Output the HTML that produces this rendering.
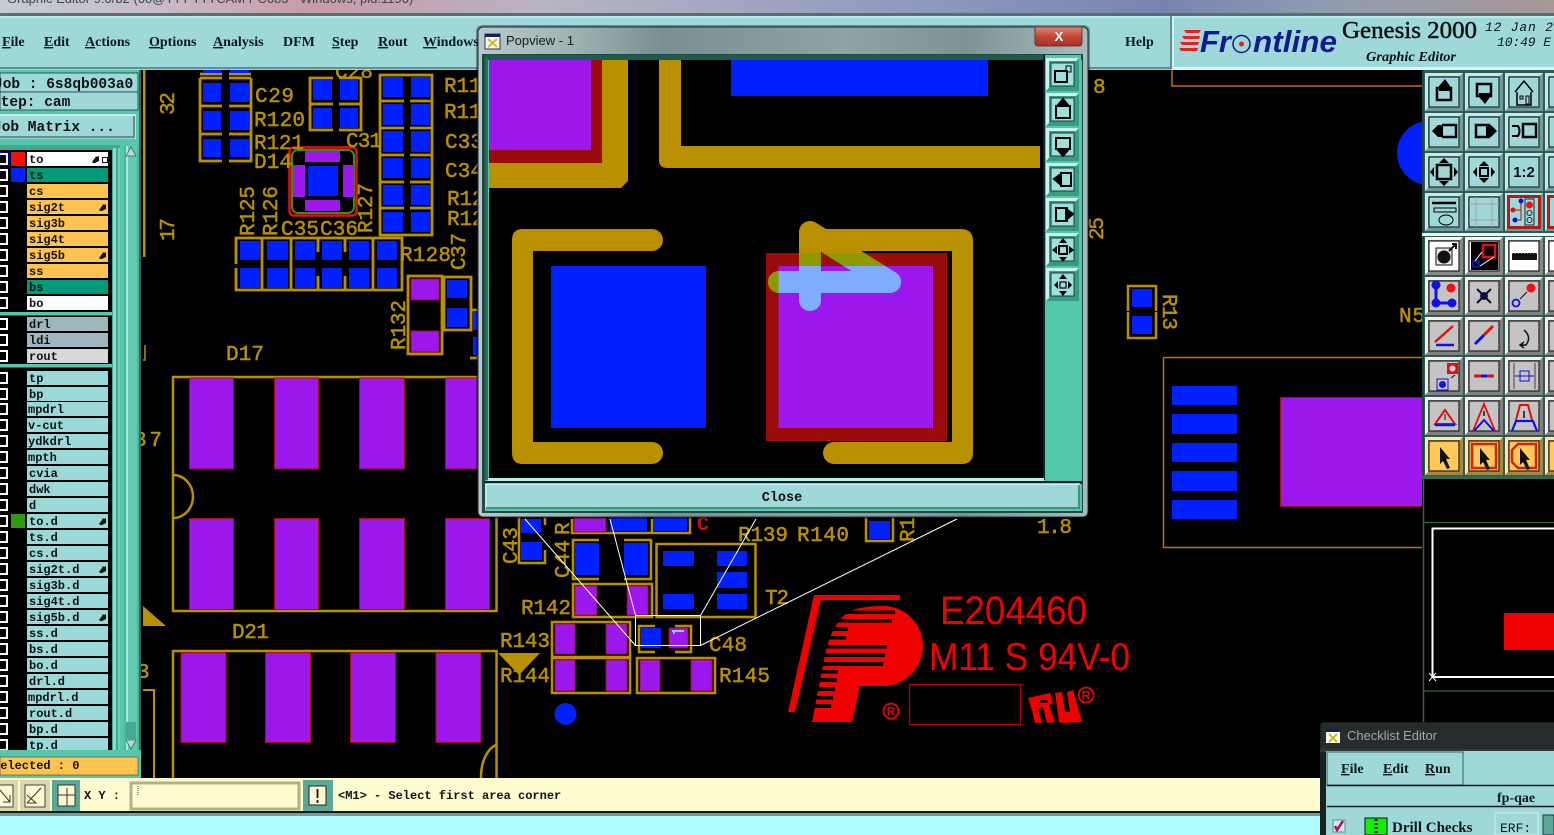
<!DOCTYPE html>
<html><head><meta charset="utf-8"><title>Graphic Editor</title>
<style>
html,body{margin:0;padding:0;background:#000;overflow:hidden}
svg{display:block}
.g{font-family:"Liberation Mono",monospace;font-size:21px;fill:#b89000;stroke:#b89000;stroke-width:.5px;font-weight:normal}
.l{font-family:"Liberation Mono",monospace;font-size:12px;font-weight:bold;fill:#111}
.m{font-family:"Liberation Serif",serif;font-size:14px;font-weight:bold;fill:#0a1a1a}
.j{font-family:"Liberation Mono",monospace;font-size:14.5px;font-weight:bold;fill:#111}
</style></head><body>
<svg xmlns="http://www.w3.org/2000/svg" width="1554" height="835" viewBox="0 0 1554 835">
<defs>
<pattern id="p" width="2" height="2" patternUnits="userSpaceOnUse"><rect width="2" height="2" fill="#8a1ff2"/><rect width="1" height="1" fill="#a01cf0"/><rect x="1" y="1" width="1" height="1" fill="#7028f0"/></pattern>
<pattern id="r" width="2" height="2" patternUnits="userSpaceOnUse"><rect width="2" height="2" fill="#8c1410"/><rect width="1" height="1" fill="#a01210"/><rect x="1" y="1" width="1" height="1" fill="#601810"/></pattern>
<linearGradient id="top" x1="0" x2="1" y1="0" y2="0"><stop offset="0" stop-color="#c4ccd4"/><stop offset=".1" stop-color="#c8bcc8"/><stop offset=".2" stop-color="#c89aa8"/><stop offset=".35" stop-color="#b8b4c4"/><stop offset=".6" stop-color="#8c98bc"/><stop offset=".75" stop-color="#7884b0"/><stop offset=".85" stop-color="#8e9cb0"/><stop offset="1" stop-color="#a89898"/></linearGradient>
<linearGradient id="glass" x1="0" x2="1" y1="0" y2="0"><stop offset="0" stop-color="#b8c8c8"/><stop offset=".15" stop-color="#a0b4b4"/><stop offset=".3" stop-color="#7a9090"/><stop offset=".6" stop-color="#8ca4a4"/><stop offset=".8" stop-color="#7c9494"/><stop offset="1" stop-color="#a8bcbc"/></linearGradient>
<linearGradient id="cl" x1="0" x2="0" y1="0" y2="1"><stop offset="0" stop-color="#e08878"/><stop offset=".5" stop-color="#c04838"/><stop offset="1" stop-color="#a83028"/></linearGradient>
<clipPath id="cv"><rect x="141" y="70" width="1281" height="708"/></clipPath>
<clipPath id="redc"><rect x="766" y="253" width="181" height="188"/></clipPath>
<clipPath id="purc"><rect x="778.5" y="266" width="155" height="162"/></clipPath>
<clipPath id="tb"><rect x="1424" y="70" width="130" height="408"/></clipPath>
<path id="arrow" d="M810 232V300M779 282H890L810 232" fill="none" stroke-width="22" stroke-linecap="round" stroke-linejoin="round"/>
<g id="bt"><rect width="38" height="38" fill="#6e9a9a"/><path d="M0 38V0H38L35 3H3V35Z" fill="#c8e8e8"/><rect x="4" y="4" width="30" height="30" fill="#a0d8d8" stroke="#18302e" stroke-width="1.200"/></g>
<g id="bg"><rect width="38" height="38" fill="#808080"/><path d="M0 38V0H38L35 3H3V35Z" fill="#f0f0f0"/><rect x="4" y="4" width="30" height="30" fill="#c4c4c4" stroke="#222" stroke-width="1.200"/></g>
<g id="bo"><rect width="38" height="38" fill="#a88840"/><path d="M0 38V0H38L35 3H3V35Z" fill="#ffe8b0"/><rect x="4" y="4" width="30" height="30" fill="#ffc858" stroke="#222" stroke-width="1.200"/></g>
<g id="bw"><rect width="38" height="38" fill="#888"/><path d="M0 38V0H38L35 3H3V35Z" fill="#f4f4f4"/><rect x="4" y="4" width="30" height="30" fill="#fff" stroke="#222" stroke-width="1.200"/></g>
<g id="br"><rect width="38" height="38" fill="#6e9a9a"/><path d="M0 38V0H38L35 3H3V35Z" fill="#c8e8e8"/><rect x="3.500" y="3.500" width="31" height="31" fill="#a0d8d8" stroke="#a82020" stroke-width="3"/></g>
<g id="ps"><rect width="33" height="33" fill="#3a9a84"/><path d="M0 33V0H33L30 3H3V30Z" fill="#c8f4ea"/><rect x="5" y="5" width="23" height="23" fill="#a0e0dc" stroke="#184038" stroke-width="1"/></g>
<path id="hand" d="M0 6L3 2L4 0L5 1L7 0L7 5L3 7L1 7Z" fill="#111"/>
<g id="chk"><rect x="-3" y="0" width="10" height="10" fill="#000" stroke="#fff" stroke-width="2"/></g>
</defs>

<!-- background -->
<rect width="1554" height="835" fill="#000"/>
<rect width="1554" height="14" fill="url(#top)"/>
<text x="7" y="3" font-family="Liberation Sans,sans-serif" font-size="13" fill="#444">Graphic Editor 9.0/b2 (60@TTT TTTCAM PC683 - Windows, pid:1196)</text>
<rect y="13" width="1554" height="3" fill="#606a70"/>

<!-- PCB canvas -->
<g clip-path="url(#cv)">
<rect x="143" y="70" width="2.500" height="187" fill="#b89000"/>
<g fill="none" stroke="#b89000" stroke-width="2.800">
<path d="M200 74H222M229 74H251M200 78V161H222M251 78V161H229M200 106H222M229 106H251M200 134H222M229 134H251M200 78H222M229 78H251"/>
<path d="M333 78H310V130H333M339 78H361V130H339M310 104H333M339 104H361"/>
<path d="M380 75H432V235H380ZM380 101H404M410 101H432M380 128H404M410 128H432M380 155H404M410 155H432M380 182H404M410 182H432M380 208H404M410 208H432"/>
<path d="M236 264V238H402V290H236V268M262 238V290M291 238V290M318 238V252M318 276V290M345 238V252M345 276V290M373 238V290"/>
<path d="M408 276H442V354H408Z"/>
<path d="M444 277H471V330H444ZM471 310H478M470 358H478V340"/>
</g>
<g fill="#0020ff">
<rect x="203" y="70" width="18" height="3"/><rect x="230" y="70" width="19" height="3"/>
<rect x="203" y="83" width="18" height="19"/><rect x="230" y="83" width="19" height="19"/>
<rect x="203" y="111" width="18" height="19"/><rect x="230" y="111" width="19" height="19"/>
<rect x="203" y="139" width="18" height="18"/><rect x="230" y="139" width="19" height="18"/>
<rect x="313" y="80" width="19" height="20"/><rect x="340" y="80" width="18" height="20"/>
<rect x="313" y="108" width="19" height="20"/><rect x="340" y="108" width="18" height="20"/>
<rect x="383" y="77" width="20" height="20"/><rect x="411" y="77" width="19" height="20"/>
<rect x="383" y="104" width="20" height="21"/><rect x="411" y="104" width="19" height="21"/>
<rect x="383" y="131" width="20" height="21"/><rect x="411" y="131" width="19" height="21"/>
<rect x="383" y="158" width="20" height="20"/><rect x="411" y="158" width="19" height="20"/>
<rect x="383" y="185" width="20" height="20"/><rect x="411" y="185" width="19" height="20"/>
<rect x="383" y="212" width="20" height="20"/><rect x="411" y="212" width="19" height="20"/>
<rect x="240" y="241" width="20" height="19"/><rect x="267" y="241" width="21" height="19"/><rect x="295" y="241" width="20" height="19"/><rect x="322" y="241" width="20" height="19"/><rect x="349" y="241" width="20" height="19"/><rect x="377" y="241" width="20" height="19"/>
<rect x="240" y="268" width="20" height="20"/><rect x="267" y="268" width="21" height="20"/><rect x="295" y="268" width="20" height="20"/><rect x="322" y="268" width="20" height="20"/><rect x="349" y="268" width="20" height="20"/><rect x="377" y="268" width="20" height="20"/>
<rect x="447" y="280" width="20" height="18"/><rect x="447" y="308" width="20" height="19"/><rect x="473" y="312" width="5" height="18"/><rect x="473" y="337" width="5" height="18"/>
</g>
<!-- D14 -->
<rect x="289.500" y="147.500" width="67" height="68" rx="4" fill="#000" stroke="#e01010" stroke-width="2.500"/>
<rect x="292" y="150" width="62" height="63" rx="6" fill="none" stroke="#3c8c10" stroke-width="2"/>
<g fill="url(#p)"><rect x="305" y="151" width="35" height="11"/><rect x="305" y="200" width="35" height="11"/><rect x="293" y="165" width="12" height="32"/><rect x="343" y="165" width="11" height="32"/></g>
<rect x="308" y="166" width="30" height="30" fill="#0020ff"/>
<rect x="411" y="279" width="28" height="21" fill="url(#p)" stroke="#a01010"/><rect x="411" y="331" width="28" height="21" fill="url(#p)" stroke="#a01010"/>

<!-- labels top-left -->
<text class="g" x="255" y="102" textLength="39">C29</text>
<text class="g" x="254" y="126" textLength="51">R120</text>
<text class="g" x="254" y="149" textLength="50">R121</text>
<text class="g" x="254" y="168" textLength="38">D14</text>
<text class="g" x="335" y="78" textLength="38">C28</text>
<text class="g" x="346" y="147" textLength="36">C31</text>
<text class="g" x="444" y="92" textLength="50">R110</text>
<text class="g" x="444" y="118" textLength="50">R119</text>
<text class="g" x="445" y="148" textLength="38">C33</text>
<text class="g" x="445" y="177" textLength="38">C34</text>
<text class="g" x="447" y="205" textLength="50">R122</text>
<text class="g" x="447" y="225" textLength="50">R123</text>
<text class="g" x="281" y="235" textLength="38">C35</text>
<text class="g" x="320" y="235" textLength="38">C36</text>
<text class="g" x="400" y="261" textLength="51">R128</text>
<text class="g" transform="translate(174,115) rotate(-90)" textLength="23">32</text>
<text class="g" transform="translate(174,241) rotate(-90)" textLength="23">17</text>
<text class="g" transform="translate(254,236) rotate(-90)" textLength="50">R125</text>
<text class="g" transform="translate(277,236) rotate(-90)" textLength="50">R126</text>
<text class="g" transform="translate(372,233) rotate(-90)" textLength="50">R127</text>
<text class="g" transform="translate(465,270) rotate(-90)" textLength="37">C37</text>
<text class="g" transform="translate(405,350) rotate(-90)" textLength="50">R132</text>
<text class="g" x="226" y="360" textLength="38">D17</text>
<path d="M145 345V360H143" fill="none" stroke="#b89000" stroke-width="1.500"/>
<text class="g" x="134" y="446" textLength="28">37</text>
<path d="M143 606V626H166Z" fill="#b89000"/>
<text class="g" x="232" y="638" textLength="37">D21</text>
<text class="g" x="137" y="678" textLength="14">3</text>
<path d="M143 690H154V778" fill="none" stroke="#b89000" stroke-width="2"/>

<!-- D17/D21 -->
<g fill="none" stroke="#b89000" stroke-width="2.500">
<path d="M173 778V651H496.500V778"/>
<rect x="173" y="377" width="323.500" height="234"/>
<path d="M173 475A20 21.500 0 0 1 173 518"/>
<path d="M496 745A20 33 0 0 0 481 778"/>
</g>
<g fill="url(#p)" stroke="#a01010" stroke-width="1">
<rect x="189.500" y="378" width="44" height="91"/><rect x="274.500" y="378" width="44" height="91"/><rect x="359.500" y="378" width="45" height="91"/><rect x="445.500" y="378" width="44" height="91"/>
<rect x="189.500" y="518.500" width="44" height="91"/><rect x="274.500" y="518.500" width="44" height="91"/><rect x="359.500" y="518.500" width="45" height="91"/><rect x="445.500" y="518.500" width="44" height="91"/>
<rect x="181" y="652.500" width="45" height="90"/><rect x="265.500" y="652.500" width="45" height="90"/><rect x="350.500" y="652.500" width="45" height="90"/><rect x="436" y="652.500" width="45" height="90"/>
</g>

<!-- bottom centre components -->
<g fill="none" stroke="#b89000" stroke-width="2.500">
<path d="M519 517V563H545V550M545 525V517"/>
<path d="M572 519V533H652V519M652 533H690V517"/>
<path d="M599 540H573V579H599M624 540H651V579H624"/>
<path d="M866 517V541H893V517"/>
<rect x="656.500" y="544" width="99" height="73"/>
<rect x="573" y="584" width="79" height="33"/>
<rect x="552" y="622" width="78" height="35"/>
<rect x="552" y="658" width="78" height="35"/>
<rect x="637" y="658" width="78" height="35"/>
<path d="M655 626H639V652H655M675 626H691V652H675"/>
</g>
<g fill="#0020ff">
<rect x="521" y="519" width="20" height="14"/><rect x="521" y="542" width="21" height="18"/>
<rect x="610" y="517" width="37" height="14"/><rect x="653" y="517" width="34" height="14"/>
<rect x="575" y="543" width="24" height="32"/><rect x="624" y="543" width="24" height="32"/>
<rect x="869" y="521" width="21" height="18"/>
<rect x="663" y="551" width="31" height="15"/><rect x="717" y="551" width="30" height="15"/><rect x="717" y="572" width="30" height="16"/><rect x="717" y="594" width="30" height="15"/><rect x="663" y="594" width="31" height="15"/>
<rect x="641" y="628" width="20" height="20"/>
<circle cx="565.500" cy="714" r="11"/>
</g>
<g fill="url(#p)" stroke="#a01010" stroke-width=".8">
<rect x="574" y="518" width="32" height="14"/>
<rect x="575" y="586" width="22" height="29"/><rect x="627" y="586" width="21" height="29"/>
<rect x="555" y="624" width="20" height="30"/><rect x="606" y="624" width="21" height="30"/>
<rect x="555" y="660" width="20" height="31"/><rect x="606" y="660" width="21" height="31"/>
<rect x="640" y="660" width="20" height="31"/><rect x="691" y="660" width="21" height="31"/>
<rect x="669" y="628" width="19" height="20"/>
</g>
<path d="M674 630V634M672 631H684" stroke="#90c0ff" stroke-width="2" fill="none"/>
<path d="M498 653H540L519 675Z" fill="#b89000"/>
<text class="g" transform="translate(517,564) rotate(-90)" textLength="37">C43</text>
<text class="g" transform="translate(569,578) rotate(-90)" textLength="38">C44</text>
<text class="g" transform="translate(569,535) rotate(-90)" textLength="14">R</text>
<text class="g" x="738" y="541" textLength="50">R139</text>
<text class="g" x="797" y="541" textLength="52">R140</text>
<text class="g" transform="translate(914,542) rotate(-90)" textLength="25">R1</text>
<text class="g" x="1037" y="533" textLength="35">1.8</text>
<text class="g" x="765" y="604" textLength="24">T2</text>
<text class="g" x="521" y="614" textLength="50">R142</text>
<text class="g" x="500" y="647" textLength="50">R143</text>
<text class="g" x="500" y="682" textLength="50">R144</text>
<text class="g" x="709" y="651" textLength="38">C48</text>
<text class="g" x="719" y="682" textLength="51">R145</text>
<text x="697" y="530" font-family="Liberation Mono,monospace" font-size="20" font-weight="bold" fill="#d01010">C</text>
<g fill="none" stroke="#fff" stroke-width="1">
<path d="M635.500 615.500H700.500V645.500H635.500ZM525 519L635.500 645.500M610 519L635.500 615.500M756 519L700.500 615.500M957 519L700.500 645.500"/>
</g>

<!-- Logo -->
<path d="M814 595H900V600H821L795 712H788Z" fill="#f00000"/>
<path d="M812 722L826 650Q832 625 848 612Q860 606 883 606A40 40 0 0 1 883 686H860L852 722Z" fill="#f00000"/>
<g fill="#000">
<rect x="843" y="610.500" width="52" height="3.500"/><rect x="836" y="619" width="56" height="3.500"/><rect x="829" y="627" width="19" height="4"/><rect x="825" y="636" width="21" height="3.500"/><rect x="822" y="645" width="65" height="3.500"/><rect x="822" y="653.500" width="63" height="3.500"/><rect x="819" y="662" width="64" height="4"/><rect x="819" y="670" width="19" height="3.500"/><rect x="817" y="678" width="20" height="4"/><rect x="814" y="687" width="21" height="4"/><rect x="812" y="696" width="21" height="3.500"/><rect x="810" y="704" width="21" height="4"/>
</g>
<text x="940" y="624" font-family="Liberation Sans,sans-serif" font-size="40" fill="#f00000" textLength="147" lengthAdjust="spacingAndGlyphs">E204460</text>
<text x="929" y="670" font-family="Liberation Sans,sans-serif" font-size="39" fill="#f00000" textLength="201" lengthAdjust="spacingAndGlyphs">M11 S 94V-0</text>
<rect x="909.500" y="684.500" width="111" height="40" fill="none" stroke="#c00000" stroke-width="1.200"/>
<circle cx="891" cy="711" r="7.500" fill="none" stroke="#f00000" stroke-width="1.800"/>
<text x="891" y="715.500" font-family="Liberation Sans,sans-serif" font-size="12" font-weight="bold" fill="#f00000" text-anchor="middle">R</text>
<circle cx="1086" cy="695" r="7.500" fill="none" stroke="#f00000" stroke-width="1.800"/>
<text x="1086" y="699.500" font-family="Liberation Sans,sans-serif" font-size="12" font-weight="bold" fill="#f00000" text-anchor="middle">R</text>
<path d="M1028 698L1050 693L1053 703L1049 705L1055 722L1047 723L1043 707L1038 709L1042 723L1035 723L1032 710Z" fill="#f00000"/>
<path d="M1055 693L1062 692L1065 712L1070 712L1067 692L1073 690L1082 722L1062 723L1059 722Z" fill="#f00000"/>
<rect x="1040" y="700" width="8" height="2.500" fill="#000"/>

<!-- right of popup -->
<text class="g" x="1093" y="93" textLength="13">8</text>
<text class="g" transform="translate(1103,240) rotate(-90)" textLength="23">25</text>
<path d="M1172 70V86H1422" fill="none" stroke="#c86c10" stroke-width="1.500"/>
<circle cx="1429" cy="153" r="32" fill="#0020ff"/>
<path d="M1128 311V286H1156V311M1128 312V338H1156V312" fill="none" stroke="#b89000" stroke-width="2.500"/>
<rect x="1132" y="289" width="20" height="18" fill="#0020ff"/><rect x="1132" y="316" width="20" height="18" fill="#0020ff"/>
<text class="g" transform="translate(1163,294) rotate(90)" textLength="36">R13</text>
<text class="g" x="1399" y="322" textLength="26">N5</text>
<path d="M1424 357.500H1163.500V547.500H1424" fill="none" stroke="#c86c10" stroke-width="1.500"/>
<g fill="#0020ff"><rect x="1172" y="386" width="65" height="19"/><rect x="1172" y="414" width="65" height="20"/><rect x="1172" y="443" width="65" height="19"/><rect x="1172" y="471" width="65" height="20"/><rect x="1172" y="500" width="65" height="19"/></g>
<rect x="1280.500" y="397.500" width="150" height="109" fill="url(#p)" stroke="#a01010"/>
</g>

<!-- menubar -->
<rect y="16" width="1554" height="54" fill="#9fd8d8"/>
<rect y="16" width="1554" height="2" fill="#b8ecec"/>
<rect y="67" width="1170" height="2" fill="#5f8f8f"/>
<rect x="1170" y="16" width="2" height="53" fill="#5f8f8f"/>
<rect x="1172" y="16" width="2" height="53" fill="#d0f4f4"/>
<rect x="1172" y="67" width="382" height="3" fill="#d8f6f6"/>
<text class="m" x="2" y="46"><tspan text-decoration="underline">F</tspan>ile</text>
<text class="m" x="44" y="46"><tspan text-decoration="underline">E</tspan>dit</text>
<text class="m" x="85" y="46"><tspan text-decoration="underline">A</tspan>ctions</text>
<text class="m" x="149" y="46"><tspan text-decoration="underline">O</tspan>ptions</text>
<text class="m" x="213" y="46"><tspan text-decoration="underline">A</tspan>nalysis</text>
<text class="m" x="283" y="46">DFM</text>
<text class="m" x="332" y="46"><tspan text-decoration="underline">S</tspan>tep</text>
<text class="m" x="378" y="46"><tspan text-decoration="underline">R</tspan>out</text>
<text class="m" x="423" y="46"><tspan text-decoration="underline">W</tspan>indows</text>
<text class="m" x="1125" y="46">Help</text>
<!-- Frontline logo -->
<g fill="#e82020"><path d="M1184 30H1201L1199 33H1186Z"/><path d="M1182 36H1200L1199 39H1184Z"/><path d="M1180 42H1199L1198 45H1182Z"/><path d="M1179 48H1198L1197 51H1181Z"/></g>
<text x="1200" y="52" font-family="Liberation Sans,sans-serif" font-size="31" font-weight="bold" font-style="italic" fill="#101c8c" textLength="31" lengthAdjust="spacingAndGlyphs">Fr</text>
<circle cx="1241.500" cy="44" r="8.500" fill="none" stroke="#101c8c" stroke-width="1.500"/><circle cx="1241.500" cy="44" r="2.500" fill="#e82020"/>
<text x="1253" y="52" font-family="Liberation Sans,sans-serif" font-size="31" font-weight="bold" font-style="italic" fill="#101c8c" textLength="84" lengthAdjust="spacingAndGlyphs">ntline</text>
<text x="1342" y="38" font-family="Liberation Serif,serif" font-size="24" fill="#0a1414" stroke="#0a1414" stroke-width=".5" textLength="135" lengthAdjust="spacingAndGlyphs">Genesis 2000</text>
<text x="1366" y="61" font-family="Liberation Serif,serif" font-size="14" font-weight="bold" font-style="italic" fill="#0a1414" textLength="90" lengthAdjust="spacingAndGlyphs">Graphic Editor</text>
<text x="1485" y="31" font-family="Liberation Mono,monospace" font-size="13" font-style="italic" fill="#0a1414" textLength="68">12 Jan 2</text>
<text x="1497" y="46" font-family="Liberation Mono,monospace" font-size="13" font-style="italic" fill="#0a1414" textLength="54">10:49 E</text>

<!-- Left panel -->
<rect x="0" y="70" width="141" height="708" fill="#58c6aa"/>
<rect x="139" y="70" width="2" height="708" fill="#2e6a5c"/>
<rect x="0" y="73" width="138" height="19" fill="#9fd8d8" stroke="#1a3a3a" stroke-width=".8"/>
<rect x="0" y="92" width="138" height="18" fill="#9fd8d8" stroke="#1a3a3a" stroke-width=".8"/>
<rect x="0" y="115" width="135" height="24" fill="#9fd8d8"/><path d="M0 115H135V139" fill="none" stroke="#d8f6f6" stroke-width="1.500"/><path d="M0 137H134V116" fill="none" stroke="#5f8f8f" stroke-width="2"/>
<text class="j" x="-6" y="88">Job : 6s8qb003a0</text>
<text class="j" x="-8" y="106">Step: cam</text>
<text class="j" x="-7" y="131">Job Matrix ...</text>
<rect x="0" y="145" width="120" height="605" fill="#3ea890"/>
<rect x="113" y="148" width="3" height="602" fill="#8adcc8"/><rect x="118" y="148" width="2" height="602" fill="#6acfb8"/>
<rect x="124" y="146" width="15" height="604" fill="#4ab89e"/>
<rect x="126" y="146" width="11" height="604" fill="#62cab0"/>
<rect x="126" y="146" width="2" height="604" fill="#a8ecdc"/>
<path d="M131 147L126 156H136Z" fill="#b8dcdc" stroke="#3a6a60" stroke-width=".8"/>
<rect x="126" y="722" width="10" height="17" fill="#44a894"/>
<path d="M131 749L126 740H136Z" fill="#b8dcdc" stroke="#3a6a60" stroke-width=".8"/>
<rect x="0" y="150" width="112" height="600" fill="#000"/>
<rect x="0" y="312" width="112" height="3.500" fill="#58c6aa"/>
<rect x="0" y="364" width="112" height="3.500" fill="#58c6aa"/>
<!-- swatches -->
<rect x="0" y="152" width="10" height="14" fill="#0000a0"/>
<rect x="11" y="152" width="14" height="14" fill="#f01010"/>
<rect x="11" y="168" width="14" height="14" fill="#0020ff"/>
<rect x="11" y="514" width="14" height="14" fill="#2e9a10"/>
<!-- rows -->
<g>
<rect x="27" y="152" width="81" height="14" fill="#fff"/>
<rect x="27" y="168" width="81" height="14" fill="#009a78"/>
<g fill="#ffc44f"><rect x="27" y="184" width="81" height="14"/><rect x="27" y="200" width="81" height="14"/><rect x="27" y="216" width="81" height="14"/><rect x="27" y="232" width="81" height="14"/><rect x="27" y="248" width="81" height="14"/><rect x="27" y="264" width="81" height="14"/></g>
<rect x="27" y="280" width="81" height="14" fill="#009a78"/>
<rect x="27" y="296" width="81" height="14" fill="#fff"/>
<rect x="27" y="317" width="81" height="14" fill="#a0b6be"/>
<rect x="27" y="333" width="81" height="14" fill="#a0b6be"/>
<rect x="27" y="349" width="81" height="14" fill="#d8d8d8"/>
<g fill="#9cd8d8">
<rect x="27" y="371" width="81" height="14"/><rect x="27" y="387" width="81" height="14"/><rect x="27" y="402" width="81" height="14"/><rect x="27" y="418" width="81" height="14"/><rect x="27" y="434" width="81" height="14"/><rect x="27" y="450" width="81" height="14"/><rect x="27" y="466" width="81" height="14"/><rect x="27" y="482" width="81" height="14"/><rect x="27" y="498" width="81" height="14"/><rect x="27" y="514" width="81" height="14"/><rect x="27" y="530" width="81" height="14"/><rect x="27" y="546" width="81" height="14"/><rect x="27" y="562" width="81" height="14"/><rect x="27" y="578" width="81" height="14"/><rect x="27" y="594" width="81" height="14"/><rect x="27" y="610" width="81" height="14"/><rect x="27" y="626" width="81" height="14"/><rect x="27" y="642" width="81" height="14"/><rect x="27" y="658" width="81" height="14"/><rect x="27" y="674" width="81" height="14"/><rect x="27" y="690" width="81" height="14"/><rect x="27" y="706" width="81" height="14"/><rect x="27" y="722" width="81" height="14"/><rect x="27" y="738" width="81" height="12"/>
</g>
</g>
<g>
<use href="#chk" y="154"/><use href="#chk" y="170"/><use href="#chk" y="186"/><use href="#chk" y="202"/><use href="#chk" y="218"/><use href="#chk" y="234"/><use href="#chk" y="250"/><use href="#chk" y="266"/><use href="#chk" y="282"/><use href="#chk" y="298"/><use href="#chk" y="319"/><use href="#chk" y="335"/><use href="#chk" y="351"/>
<use href="#chk" y="373"/><use href="#chk" y="389"/><use href="#chk" y="404"/><use href="#chk" y="420"/><use href="#chk" y="436"/><use href="#chk" y="452"/><use href="#chk" y="468"/><use href="#chk" y="484"/><use href="#chk" y="500"/><use href="#chk" y="516"/><use href="#chk" y="532"/><use href="#chk" y="548"/><use href="#chk" y="564"/><use href="#chk" y="580"/><use href="#chk" y="596"/><use href="#chk" y="612"/><use href="#chk" y="628"/><use href="#chk" y="644"/><use href="#chk" y="660"/><use href="#chk" y="676"/><use href="#chk" y="692"/><use href="#chk" y="708"/><use href="#chk" y="724"/><use href="#chk" y="740"/>
</g>
<text class="l" x="29" y="163">to</text><text class="l" x="29" y="179">ts</text><text class="l" x="29" y="195">cs</text><text class="l" x="29" y="211">sig2t</text><text class="l" x="29" y="227">sig3b</text><text class="l" x="29" y="243">sig4t</text><text class="l" x="29" y="259">sig5b</text><text class="l" x="29" y="275">ss</text><text class="l" x="29" y="291">bs</text><text class="l" x="29" y="307">bo</text>
<text class="l" x="29" y="328">drl</text><text class="l" x="29" y="344">ldi</text><text class="l" x="29" y="360">rout</text>
<text class="l" x="29" y="382">tp</text><text class="l" x="29" y="398">bp</text><text class="l" x="28" y="413">mpdrl</text><text class="l" x="28" y="429">v-cut</text><text class="l" x="28" y="445">ydkdrl</text><text class="l" x="28" y="461">mpth</text><text class="l" x="29" y="477">cvia</text><text class="l" x="29" y="493">dwk</text><text class="l" x="29" y="509">d</text><text class="l" x="29" y="525">to.d</text><text class="l" x="29" y="541">ts.d</text><text class="l" x="29" y="557">cs.d</text><text class="l" x="29" y="573">sig2t.d</text><text class="l" x="29" y="589">sig3b.d</text><text class="l" x="29" y="605">sig4t.d</text><text class="l" x="29" y="621">sig5b.d</text><text class="l" x="29" y="637">ss.d</text><text class="l" x="29" y="653">bs.d</text><text class="l" x="29" y="669">bo.d</text><text class="l" x="29" y="685">drl.d</text><text class="l" x="28" y="701">mpdrl.d</text><text class="l" x="29" y="717">rout.d</text><text class="l" x="29" y="733">bp.d</text><text class="l" x="29" y="749">tp.d</text>
<use href="#hand" x="92" y="156"/><use href="#hand" x="99" y="204"/><use href="#hand" x="99" y="252"/><use href="#hand" x="99" y="518"/><use href="#hand" x="99" y="566"/><use href="#hand" x="99" y="614"/>
<rect x="102.500" y="157.500" width="5" height="5" fill="none" stroke="#111"/>
<rect x="0" y="750" width="141" height="28" fill="#58c6aa"/>
<rect x="0" y="757" width="138" height="18" fill="#ffc44f" stroke="#444" stroke-width=".6"/>
<text class="l" x="-7" y="769">Selected : 0</text>

<!-- bottom bar -->
<rect y="778" width="1554" height="34" fill="#fdfbd0"/>
<rect y="811" width="1554" height="2" fill="#101818"/>
<rect y="813" width="1554" height="3" fill="#7a9a9a"/>
<rect y="816" width="1554" height="19" fill="#b0ffff"/>
<rect x="0" y="780" width="18" height="31" fill="#d8d8b0"/><rect x="-4" y="785" width="17" height="22" fill="#fff8d0" stroke="#444"/><path d="M0 790L10 802M10 795V802H3" stroke="#333" fill="none"/>
<rect x="20" y="780" width="30" height="31" fill="#d8d8b0"/><rect x="25" y="785" width="20" height="22" fill="#fff8d0" stroke="#444"/><path d="M27 803L41 788M27 795L36 803H27" stroke="#333" fill="none"/>
<rect x="52" y="780" width="28" height="31" fill="#5aa898"/><rect x="58" y="785" width="17" height="21" fill="#fff8d0" stroke="#333"/><path d="M58 795H75M67 788V806" stroke="#333"/>
<text class="l" x="84" y="799">X Y :</text>
<rect x="131" y="783" width="168" height="26" fill="#fdfbd0" stroke="#b0b088" stroke-width="3"/>
<path d="M138 786V796" stroke="#444" stroke-dasharray="1 1"/>
<rect x="303" y="780" width="30" height="31" fill="#5aa898"/><rect x="309" y="786" width="17" height="19" fill="#fff8d0" stroke="#222"/><path d="M317.500 789V798M317.500 800V803" stroke="#111" stroke-width="1.800"/>
<text class="l" x="338" y="799">&lt;M1&gt; - Select first area corner</text>

<!-- popup -->
<rect x="476" y="25" width="614" height="494" rx="6" fill="#000" fill-opacity=".35"/>
<rect x="478" y="27" width="610" height="490" rx="5" fill="url(#glass)" stroke="#223" stroke-width="1"/>
<rect x="482" y="54" width="601" height="459" fill="#204a44"/>
<rect x="485" y="60" width="597" height="451" fill="#52c8aa"/>
<rect x="485" y="55" width="559" height="5" fill="#1f5a4e"/>
<rect x="485" y="58" width="3" height="422" fill="#2a7060"/>
<rect x="489" y="60" width="554" height="418" fill="#000"/>
<rect x="1043" y="55" width="38" height="425" fill="#52c8aa"/>
<rect x="1043" y="55" width="2" height="425" fill="#123"/>
<rect x="488" y="478" width="556" height="3" fill="#b8f0e4"/>
<rect x="485" y="481" width="597" height="3" fill="#123"/>
<rect x="486" y="484" width="594" height="25" fill="#9fd8d8"/>
<path d="M486 509V484H1080" fill="none" stroke="#d8f6f6" stroke-width="1.500"/>
<path d="M486 508H1079V485" fill="none" stroke="#4f8a84" stroke-width="2"/>
<text x="782" y="501" text-anchor="middle" font-family="Liberation Mono,monospace" font-size="13.500" font-weight="bold" fill="#111">Close</text>
<!-- titlebar -->
<rect x="485" y="34" width="15" height="15" fill="#f8f8f0" stroke="#334"/><rect x="485" y="34" width="15" height="3" fill="#102060"/><path d="M488 39L497 47M497 39L488 47" stroke="#c8c020" stroke-width="2"/>
<text x="506" y="45" font-family="Liberation Sans,sans-serif" font-size="13" fill="#1a1a1a" textLength="68" lengthAdjust="spacingAndGlyphs">Popview - 1</text>
<path d="M1035 27H1082V43Q1082 46 1079 46H1038Q1035 46 1035 43Z" fill="url(#cl)" stroke="#6a2020" stroke-width=".8"/>
<text x="1059" y="41" text-anchor="middle" font-family="Liberation Sans,sans-serif" font-size="13" font-weight="bold" fill="#fff">X</text>
<!-- popup content -->
<svg x="489" y="60" width="554" height="418" viewBox="489 60 554 418">
<path d="M489 60H628V181L621 188H489Z" fill="#b89000"/>
<rect x="489" y="60" width="113" height="103" fill="url(#r)"/>
<rect x="489" y="60" width="102" height="90" fill="url(#p)"/>
<path d="M659 60H681V146H1040V168H667Q659 168 659 160Z" fill="#b89000"/>
<rect x="731" y="60" width="257" height="36" fill="#0020ff"/>
<path d="M523 229H652A11 11 0 0 1 652 251H533V442H652A11 11 0 0 1 652 464H523Q512 464 512 453V240Q512 229 523 229Z" fill="#b89000"/>
<rect x="551" y="266" width="155" height="162" fill="#0020ff"/>
<rect x="766" y="253" width="181" height="188" fill="url(#r)"/>
<rect x="778.500" y="266" width="154.500" height="162" fill="url(#p)"/>
<path d="M810 229H961Q973 229 973 241V453Q973 464 961 464H834A11 11 0 0 1 834 442H952V251H810Z" fill="#b89000"/>
<use href="#arrow" stroke="#b89000"/>
<g clip-path="url(#redc)"><use href="#arrow" stroke="#8c9a00"/></g>
<g clip-path="url(#purc)"><use href="#arrow" stroke="#80acff"/></g>
</svg>
<!-- popup side buttons -->
<use href="#ps" x="1046" y="58"/><use href="#ps" x="1046" y="93"/><use href="#ps" x="1046" y="128"/><use href="#ps" x="1046" y="163"/><use href="#ps" x="1046" y="198"/><use href="#ps" x="1046" y="233"/><use href="#ps" x="1046" y="268"/>
<g fill="none" stroke="#000" stroke-width="2">
<rect x="1055" y="71" width="12" height="11"/><rect x="1066" y="66" width="5" height="6" stroke-width="1"/>
<path d="M1056 106H1070V118H1056Z"/><path d="M1063 99L1058 105H1068Z" fill="#000"/>
<path d="M1056 138H1070V149H1056Z"/><path d="M1063 156L1058 150H1068Z" fill="#000"/>
<path d="M1060 173H1071V186H1060"/><path d="M1054 179L1061 174V185Z" fill="#000"/>
<path d="M1068 208H1056V221H1068"/><path d="M1073 214L1066 209V220Z" fill="#000"/>
<rect x="1059" y="246" width="8" height="8"/><path d="M1063 238L1059 243H1067ZM1063 262L1059 257H1067ZM1052 250L1057 246V254ZM1074 250L1069 246V254Z" fill="#000" stroke="none"/>
<rect x="1060" y="282" width="6" height="6" stroke-width="1.200"/><path d="M1063 274L1059 279H1067ZM1063 296L1059 291H1067ZM1054 285L1058 281V289ZM1072 285L1068 281V289Z" fill="#000" stroke="none"/>
</g>

<!-- toolbar -->
<rect x="1422" y="70" width="132" height="408" fill="#2e5a52"/>
<rect x="1422" y="70" width="2" height="408" fill="#1f4a44"/>
<rect x="1422" y="233" width="132" height="3" fill="#e8f4f4"/>
<rect x="1422" y="476" width="132" height="3" fill="#2e6a5c"/>
<g clip-path="url(#tb)">
<use href="#bt" x="1425" y="73"/><use href="#bt" x="1465" y="73"/><use href="#bt" x="1505" y="73"/><use href="#bt" x="1545" y="73"/>
<use href="#bt" x="1425" y="113"/><use href="#bt" x="1465" y="113"/><use href="#bt" x="1505" y="113"/><use href="#bt" x="1545" y="113"/>
<use href="#bt" x="1425" y="153"/><use href="#bt" x="1465" y="153"/><use href="#bt" x="1505" y="153"/><use href="#bt" x="1545" y="153"/>
<use href="#bt" x="1425" y="193"/><use href="#bt" x="1465" y="193"/><use href="#br" x="1505" y="193"/><use href="#br" x="1545" y="193"/>
<use href="#bw" x="1425" y="237"/><use href="#bw" x="1465" y="237"/><use href="#bw" x="1505" y="237"/><use href="#bw" x="1545" y="237"/>
<use href="#bg" x="1425" y="277"/><use href="#bg" x="1465" y="277"/><use href="#bg" x="1505" y="277"/><use href="#bg" x="1545" y="277"/>
<use href="#bg" x="1425" y="317"/><use href="#bg" x="1465" y="317"/><use href="#bg" x="1505" y="317"/><use href="#bg" x="1545" y="317"/>
<use href="#bg" x="1425" y="357"/><use href="#bg" x="1465" y="357"/><use href="#bg" x="1505" y="357"/><use href="#bg" x="1545" y="357"/>
<use href="#bg" x="1425" y="397"/><use href="#bg" x="1465" y="397"/><use href="#bg" x="1505" y="397"/><use href="#bg" x="1545" y="397"/>
<use href="#bo" x="1425" y="437"/><use href="#bo" x="1465" y="437"/><use href="#bo" x="1505" y="437"/><use href="#bo" x="1545" y="437"/>
<!-- row 1-4 icons -->
<g fill="none" stroke="#000" stroke-width="2.500">
<rect x="1437" y="88" width="14" height="12"/><path d="M1445 79L1439 86V91H1450V86Z" fill="#000" stroke="none"/>
<rect x="1477" y="84" width="14" height="12"/><path d="M1485 104L1479 97V93H1490V97Z" fill="#000" stroke="none"/>
<path d="M1515 92L1524 81L1533 92M1517 92V105H1531V92" stroke-width="1.500"/><rect x="1520" y="96" width="3" height="3" stroke-width="1"/><rect x="1526" y="96" width="3" height="8" stroke-width="1"/>
<path d="M1442 125H1456V137H1442"/><path d="M1432 131L1438 125H1443V137H1438Z" fill="#000" stroke="none"/>
<path d="M1490 125H1476V137H1490"/><path d="M1497 131L1491 125H1486V137H1491Z" fill="#000" stroke="none"/>
<rect x="1523" y="124" width="13" height="13"/><path d="M1512 126H1518Q1521 131 1518 136H1512" stroke-width="2"/>
<rect x="1437" y="165" width="14" height="14"/><path d="M1444 158L1439 163H1449ZM1444 186L1439 181H1449ZM1430 172L1434 167V177ZM1458 172L1454 167V177Z" fill="#000" stroke="none"/>
<rect x="1480" y="168" width="8" height="8" stroke-width="2"/><path d="M1484 161L1479 166H1489ZM1484 183L1479 178H1489ZM1473 172L1477 167V177ZM1495 172L1491 167V177Z" fill="#000" stroke="none"/>
<path d="M1432 203H1456" stroke-width="2.500"/><path d="M1434 208H1456V212H1434Z" stroke-width="1"/><ellipse cx="1446" cy="220" rx="7" ry="5" stroke-width="1"/>
</g>
<text x="1524" y="177" text-anchor="middle" font-family="Liberation Sans,sans-serif" font-size="15" font-weight="bold" fill="#111">1:2</text>
<g stroke="#a8a0a8" stroke-width="1" fill="none"><path d="M1476 197V227M1492 197V227M1469 204H1499M1469 220H1499"/></g>
<path d="M1514 210H1521V200M1521 210V220H1514" fill="none" stroke="#b01010" stroke-width="1"/><circle cx="1513" cy="210" r="2.500" fill="#e01010"/><circle cx="1521" cy="201" r="2.500" fill="#1010d0"/><circle cx="1515" cy="220" r="2.500" fill="#1010d0"/>
<rect x="1525" y="199" width="9" height="26" fill="none" stroke="#222"/><circle cx="1529.500" cy="205" r="3.500" fill="#f01010"/><circle cx="1529.500" cy="213" r="2.500" fill="none" stroke="#222"/><circle cx="1529.500" cy="220" r="2.500" fill="none" stroke="#222"/>
<!-- white row -->
<rect x="1436" y="248" width="16" height="17" fill="#e8e8e8" stroke="#111"/>
<circle cx="1444" cy="257" r="6.500" fill="#111"/><path d="M1449 251L1456 244M1452 244H1456V249" stroke="#111" stroke-width="2" fill="none"/>
<rect x="1471" y="242" width="27" height="28" fill="#000"/><rect x="1483" y="245" width="12" height="12" fill="none" stroke="#e01010" stroke-width="2.500"/><rect x="1473" y="261" width="6" height="6" fill="none" stroke="#1010e0" stroke-width="1.500"/><path d="M1482 252L1475 261M1494 257L1480 266" stroke="#fff"/>
<path d="M1512 253H1537V260H1512Z" fill="#111"/><path d="M1512 253H1537" stroke="#fff" stroke-dasharray="1 2"/>
<!-- row 6 -->
<path d="M1436 285V303H1453" stroke="#1010e0" stroke-width="3" fill="none"/><g fill="#1010e0"><circle cx="1436" cy="285" r="4.500"/><circle cx="1436" cy="303" r="4.500"/><circle cx="1452" cy="303" r="4.500"/></g><circle cx="1451" cy="288" r="4.500" fill="#f01010"/>
<circle cx="1484" cy="296" r="4" fill="#1010a0"/><path d="M1477 289L1491 303M1491 289L1477 303" stroke="#111" stroke-width="2"/>
<circle cx="1531" cy="288" r="4.500" fill="#f01010"/><circle cx="1516" cy="303" r="3.500" fill="none" stroke="#1010e0" stroke-width="1.800"/><path d="M1520 299L1527 292" stroke="#111"/>
<!-- row 7 -->
<path d="M1435 342L1453 326" stroke="#e01010" stroke-width="2.500"/><path d="M1436 345H1454" stroke="#1010e0" stroke-width="2.500"/>
<path d="M1475 344L1484 335" stroke="#1010e0" stroke-width="3"/><path d="M1484 335L1493 326" stroke="#e01010" stroke-width="3"/>
<path d="M1524 330Q1532 337 1526 345H1520M1524 342L1520 345L1524 348" fill="none" stroke="#111" stroke-width="1.500"/>
<!-- row 8 -->
<rect x="1437" y="379" width="11" height="11" fill="none" stroke="#1010e0"/><circle cx="1442.500" cy="384.500" r="3.500" fill="#1010e0"/><rect x="1447" y="363" width="11" height="11" fill="#e01010"/><circle cx="1452.500" cy="368.500" r="3" fill="#d0d0d0"/><path d="M1451 378L1455 375" stroke="#111"/>
<path d="M1474 376H1494" stroke="#e01010" stroke-width="3"/><path d="M1481 376H1487" stroke="#1010e0" stroke-width="3"/>
<path d="M1514 363V389M1535 363V389" stroke="#444"/><rect x="1520" y="371" width="9" height="10" fill="none" stroke="#1010c0"/><path d="M1515 376H1534" stroke="#1010c0"/>
<!-- row 9 -->
<path d="M1435 424L1445 410L1455 424Z" fill="none" stroke="#e01010" stroke-width="2"/><path d="M1435 425H1455" stroke="#1010e0" stroke-width="2.500"/><path d="M1445 420V414" stroke="#111"/>
<path d="M1473 431L1484 404L1495 431" fill="none" stroke="#e01010" stroke-width="1.800"/><path d="M1474 431L1484 420L1494 431" fill="none" stroke="#1010e0" stroke-width="2"/><path d="M1484 416V411" stroke="#111" stroke-width="1.500"/>
<path d="M1516 420L1520 405H1528L1532 420" fill="none" stroke="#e01010" stroke-width="2"/><path d="M1512 431L1516 421H1533L1537 431" fill="none" stroke="#1010e0" stroke-width="2.200"/><path d="M1524 418V411" stroke="#111" stroke-width="1.500"/>
<!-- row 10 -->
<path d="M1440 447L1450 459L1446 459L1450 468L1447 469L1443 461L1440 464Z" fill="#111"/>
<rect x="1472" y="444" width="24" height="24" fill="none" stroke="#d82010" stroke-width="2.500"/><path d="M1480 448L1490 460L1486 460L1490 469L1487 470L1483 462L1480 465Z" fill="#111"/>
<path d="M1518 444H1536V468H1518L1512 462V450Z" fill="none" stroke="#d82010" stroke-width="2.500"/><path d="M1520 448L1530 460L1526 460L1530 469L1527 470L1523 462L1520 465Z" fill="#111"/>
</g>
<!-- mini map -->
<rect x="1422" y="479" width="132" height="243" fill="#000"/>
<path d="M1423.500 478V722" stroke="#2e6a3c" stroke-width="1.500"/>
<path d="M1424 522.500H1554M1424 691H1554" stroke="#2e6a3c" stroke-width="1.200"/>
<path d="M1554 528.500H1432.500V677H1554" fill="none" stroke="#fff" stroke-width="2"/>
<path d="M1429 673L1436 681M1436 673L1429 681" stroke="#fff"/>
<rect x="1504" y="613" width="50" height="37" fill="#f00000"/>

<!-- checklist editor -->
<path d="M1320 835V727Q1320 722 1325 722H1554V835Z" fill="#1a2020"/>
<rect x="1321" y="723" width="233" height="27" fill="#262c2c"/>
<rect x="1320" y="749" width="234" height="3" fill="#30383a"/>
<rect x="1326" y="729" width="14" height="14" fill="#f8f8f0"/><rect x="1326" y="729" width="14" height="3" fill="#102060"/><path d="M1329 734L1337 742M1337 734L1329 742" stroke="#c8c020" stroke-width="2"/>
<text x="1347" y="740" font-family="Liberation Sans,sans-serif" font-size="13" fill="#a0a8a8" textLength="90" lengthAdjust="spacingAndGlyphs">Checklist Editor</text>
<rect x="1326" y="751" width="228" height="84" fill="#9fd8d8"/>
<rect x="1327" y="752" width="136" height="33" fill="#9fd8d8" stroke="#3a6060" stroke-width="1"/>
<path d="M1327 785.500H1554" stroke="#101818" stroke-width="1.500"/>
<text class="m" x="1341" y="773"><tspan text-decoration="underline">F</tspan>ile</text>
<text class="m" x="1383" y="773"><tspan text-decoration="underline">E</tspan>dit</text>
<text class="m" x="1425" y="773"><tspan text-decoration="underline">R</tspan>un</text>
<text class="m" x="1497" y="802">fp-qae</text>
<path d="M1327 806.500H1554" stroke="#101818" stroke-width="1.500"/>
<rect x="1333" y="820" width="12" height="12" fill="#c8ecec" stroke="#6a8a8a"/><path d="M1335 826L1337 830L1343 821" fill="none" stroke="#b01060" stroke-width="2.500"/>
<rect x="1365" y="818" width="22" height="17" fill="#10f000" stroke="#111"/><path d="M1376 819V835" stroke="#111" stroke-width="3" stroke-dasharray="2 2"/>
<text x="1392" y="832" font-family="Liberation Serif,serif" font-size="15" font-weight="bold" fill="#0a1414">Drill Checks</text>
<rect x="1495" y="813" width="43" height="22" fill="#9fd8d8" stroke="#d0f0f0"/>
<text x="1500" y="832" font-family="Liberation Mono,monospace" font-size="13" fill="#111">ERF:</text>
<rect x="1543" y="815" width="11" height="20" fill="#5aa898" stroke="#234"/>
</svg>
</body></html>
